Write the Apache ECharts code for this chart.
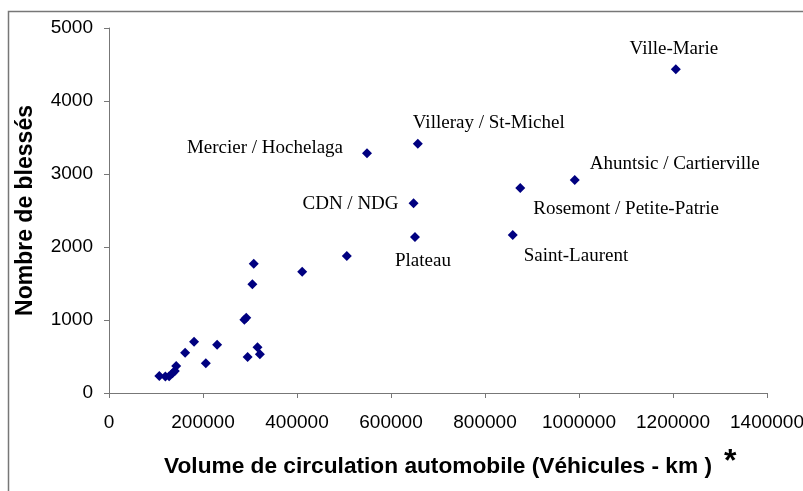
<!DOCTYPE html>
<html>
<head>
<meta charset="utf-8">
<script src="https://cdn.jsdelivr.net/npm/echarts@6/dist/echarts.min.js"></script>
<style>
  html, body { margin: 0; padding: 0; background: #fff; }
  #chart { width: 803px; height: 491px; }
</style>
</head>
<body>
<div id="chart"></div>
<script>
// Volume de circulation (véhicules-km) vs nombre de blessés, par arrondissement
const names = [
  'Ville-Marie', 'Villeray / St-Michel', 'Mercier / Hochelaga', 'Ahuntsic / Cartierville',
  'Rosemont / Petite-Patrie', 'CDN / NDG', 'Plateau', 'Saint-Laurent',
  '', '', '', '', '', '', '', '', '', '', '', '', '', '', '', '', '', '', ''
];
const volume = [
  1206000, 657000, 549000, 991000,
  875000, 648000, 651000, 859000,
  506000, 411000, 308000, 305000, 288000, 292000, 316000, 321000, 295000,
  181000, 230000, 162000, 206000, 143000, 107000, 120000, 128000, 135000, 140000
];
const blesses = [
  4435, 3415, 3284, 2918,
  2808, 2599, 2137, 2164,
  1877, 1662, 1772, 1489, 1005, 1030, 626, 530, 493,
  703, 662, 552, 407, 370, 233, 225, 228, 270, 300
];
const xTicks = [0, 200000, 400000, 600000, 800000, 1000000, 1200000, 1400000];
const yTicks = [0, 1000, 2000, 3000, 4000, 5000];

// placement des étiquettes (align, décalage)
const labelPos = {
  'Ville-Marie': ['center', [-2, -20]],
  'Villeray / St-Michel': ['left', [-5, -21]],
  'Mercier / Hochelaga': ['right', [-24, -5]],
  'Ahuntsic / Cartierville': ['left', [15, -16]],
  'Rosemont / Petite-Patrie': ['left', [13, 21]],
  'CDN / NDG': ['right', [-15, 1]],
  'Plateau': ['left', [-20, 24]],
  'Saint-Laurent': ['left', [11, 21]]
};

const points = volume.map((v, i) => {
  const item = { name: names[i], value: [v, blesses[i]] };
  const lp = labelPos[names[i]];
  if (lp) {
    item.label = {
      show: true,
      position: 'inside',
      align: lp[0],
      verticalAlign: 'middle',
      offset: lp[1],
      formatter: '{b}'
    };
  }
  return item;
});

const chart = echarts.init(document.getElementById('chart'));

const axisLine = { lineStyle: { color: '#777', width: 1 } };

chart.setOption({
  animation: false,
  backgroundColor: '#fff',
  grid: { left: 109, top: 28, width: 658, height: 365, containLabel: false, outerBoundsMode: 'none' },
  xAxis: {
    type: 'value',
    min: xTicks[0],
    max: xTicks[xTicks.length - 1],
    interval: 200000,
    axisLine: axisLine,
    axisTick: { show: true, length: 5, lineStyle: { color: '#777' } },
    splitLine: { show: false },
    axisLabel: {
      margin: 20,
      fontFamily: 'Liberation Sans',
      fontSize: 19,
      color: '#000',
      showMaxLabel: true,
      formatter: v => String(v)
    },
    name: 'Volume de circulation automobile (Véhicules - km )',
    nameLocation: 'middle',
    nameGap: 62,
    nameTextStyle: {
      fontFamily: 'Liberation Sans',
      fontWeight: 'bold',
      fontSize: 22.7,
      color: '#000'
    }
  },
  yAxis: {
    type: 'value',
    min: yTicks[0],
    max: yTicks[yTicks.length - 1],
    interval: 1000,
    axisLine: Object.assign({ show: true }, axisLine),
    axisTick: { show: true, length: 5, lineStyle: { color: '#777' } },
    splitLine: { show: false },
    axisLabel: {
      margin: 16,
      fontFamily: 'Liberation Sans',
      fontSize: 19,
      color: '#000',
      formatter: v => String(v)
    },
    name: 'Nombre de blessés',
    nameLocation: 'middle',
    nameRotate: 90,
    nameGap: 72,
    nameTextStyle: {
      fontFamily: 'Liberation Sans',
      fontWeight: 'bold',
      fontSize: 23,
      color: '#000'
    }
  },
  graphic: [
    {
      type: 'rect',
      left: 6, top: 9,
      shape: { width: 830, height: 520 },
      style: { fill: 'none', stroke: '#777', lineWidth: 1.5 },
      z: -1
    },
    {
      type: 'text',
      left: 724, top: 446,
      style: { text: '*', fontFamily: 'Liberation Sans', fontWeight: 'bold', fontSize: 32, fill: '#000' }
    }
  ],
  series: [{
    type: 'scatter',
    symbol: 'diamond',
    symbolSize: 10,
    itemStyle: { color: '#000080', opacity: 1 },
    label: {
      fontFamily: 'Liberation Serif',
      fontSize: 19,
      color: '#000'
    },
    data: points
  }]
});
</script>
</body>
</html>
